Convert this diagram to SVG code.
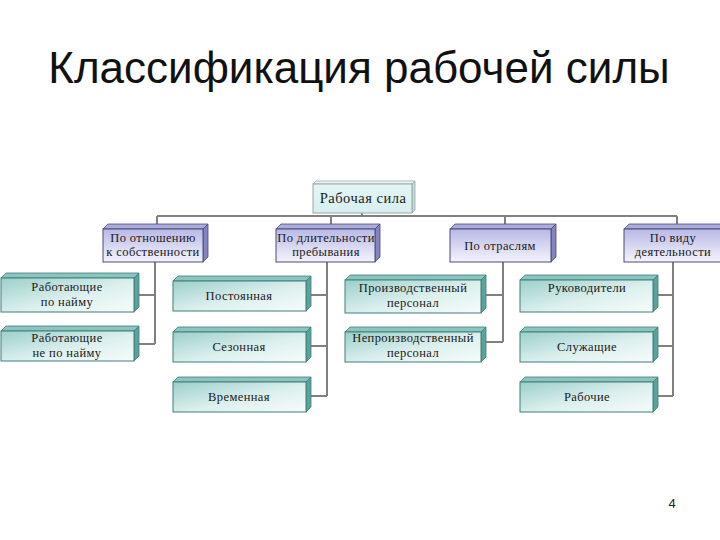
<svg xmlns="http://www.w3.org/2000/svg" width="720" height="540" viewBox="0 0 720 540">
<defs>
<linearGradient id="gT" x1="0" y1="0" x2="1" y2="1">
<stop offset="0" stop-color="#9ccfca"/>
<stop offset="0.55" stop-color="#dcf0ee"/>
<stop offset="1" stop-color="#f6fcfb"/>
</linearGradient>
<linearGradient id="gL" x1="0" y1="0" x2="0" y2="1">
<stop offset="0" stop-color="#b8b8e6"/>
<stop offset="1" stop-color="#f4f4fc"/>
</linearGradient>
<linearGradient id="gR" x1="0" y1="0" x2="0" y2="1">
<stop offset="0" stop-color="#e4f5f5"/>
<stop offset="1" stop-color="#d6efef"/>
</linearGradient>
</defs>
<style>
.t{font-family:'Liberation Serif','Times New Roman','DejaVu Serif',serif;font-size:12.5px;letter-spacing:0.4px;fill:#1a1a1a;text-anchor:middle}
.tr{font-size:14.5px;letter-spacing:0.5px}
.tf{fill:url(#gT);stroke:#3f7f7a;stroke-width:1}
.tt{fill:#8cc4bf;stroke:#3f7f7a;stroke-width:0.8}
.ts{fill:#5aa39c;stroke:#3f7f7a;stroke-width:0.8}
.lf{fill:url(#gL);stroke:#4a4a78;stroke-width:1}
.lt{fill:#ababdc;stroke:#4a4a78;stroke-width:0.8}
.ls{fill:#8484c2;stroke:#4a4a78;stroke-width:0.8}
.rf{fill:url(#gR);stroke:#9aa6a6;stroke-width:1}
.rt{fill:#eef8f8;stroke:#9aa6a6;stroke-width:0.8}
.rs{fill:#c5dcdc;stroke:#9aa6a6;stroke-width:0.8}
.c{fill:none;stroke:#808080;stroke-width:2}
</style>
<rect width="720" height="540" fill="#ffffff"/>
<text x="359" y="83" font-family="Liberation Sans, Arial, sans-serif" font-size="44" fill="#111" text-anchor="middle">Классификация рабочей силы</text>
<text x="672" y="508" font-family="Liberation Sans, Arial, sans-serif" font-size="13" fill="#222" text-anchor="middle">4</text>

<g id="connectors">
<path class="c" d="M362,213 V216 M157,216 H677 M157,216 V224 M331,216 V224 M505,216 V224 M677,216 V224"/>
<path class="c" d="M155,262 V344 M138,295 H155 M138,344 H155"/>
<path class="c" d="M327,262 V396 M310,295 H327 M310,346 H327 M310,396 H327"/>
<path class="c" d="M503,262 V342 M485,295 H503 M485,342 H503"/>
<path class="c" d="M673,262 V396 M657,295 H673 M657,346 H673 M657,396 H673"/>
</g>

<g font-family="Liberation Serif, Times New Roman, serif">
<g id="root">
<polygon class="rt" points="313,184 316,181 415,181 412,184"/>
<polygon class="rs" points="412,184 415,181 415,210 412,213"/>
<rect class="rf" x="313" y="184" width="99" height="29"/>
<text class="t tr" x="363" y="203">Рабочая сила</text>
</g>

<g id="n1">
<polygon class="lt" points="103,229 108,224 208,224 203,229"/>
<polygon class="ls" points="203,229 208,224 208,257 203,262"/>
<rect class="lf" x="103" y="229" width="100" height="33"/>
<text class="t" x="153" y="242">По отношению</text>
<text class="t" x="153" y="256">к собственности</text>
</g>
<g id="n2">
<polygon class="lt" points="276,229 281,224 380,224 375,229"/>
<polygon class="ls" points="375,229 380,224 380,257 375,262"/>
<rect class="lf" x="276" y="229" width="99" height="33"/>
<text class="t" x="326" y="242">По длительности</text>
<text class="t" x="326" y="256">пребывания</text>
</g>
<g id="n3">
<polygon class="lt" points="450,229 455,224 556,224 551,229"/>
<polygon class="ls" points="551,229 556,224 556,257 551,262"/>
<rect class="lf" x="450" y="229" width="101" height="33"/>
<text class="t" x="500" y="250">По отраслям</text>
</g>
<g id="n4">
<polygon class="lt" points="624,229 629,224 725,224 720,229"/>
<rect class="lf" x="624" y="229" width="100" height="33"/>
<text class="t" x="673" y="242">По виду</text>
<text class="t" x="673" y="256">деятельности</text>
</g>

<g id="a1">
<polygon class="tt" points="1,278 6,273 139,273 134,278"/>
<polygon class="ts" points="134,278 139,273 139,307 134,312"/>
<rect class="tf" x="1" y="278" width="133" height="34"/>
<text class="t" x="67" y="291">Работающие</text>
<text class="t" x="67" y="306">по найму</text>
</g>
<g id="a2">
<polygon class="tt" points="1,331 6,326 139,326 134,331"/>
<polygon class="ts" points="134,331 139,326 139,356 134,361"/>
<rect class="tf" x="1" y="331" width="133" height="30"/>
<text class="t" x="67" y="342">Работающие</text>
<text class="t" x="67" y="357">не по найму</text>
</g>

<g id="b1">
<polygon class="tt" points="173,281 178,276 311,276 306,281"/>
<polygon class="ts" points="306,281 311,276 311,306 306,311"/>
<rect class="tf" x="173" y="281" width="133" height="30"/>
<text class="t" x="239" y="300">Постоянная</text>
</g>
<g id="b2">
<polygon class="tt" points="173,332 178,327 311,327 306,332"/>
<polygon class="ts" points="306,332 311,327 311,357 306,362"/>
<rect class="tf" x="173" y="332" width="133" height="30"/>
<text class="t" x="239" y="351">Сезонная</text>
</g>
<g id="b3">
<polygon class="tt" points="173,382 178,377 311,377 306,382"/>
<polygon class="ts" points="306,382 311,377 311,407 306,412"/>
<rect class="tf" x="173" y="382" width="133" height="30"/>
<text class="t" x="239" y="401">Временная</text>
</g>

<g id="c1">
<polygon class="tt" points="345,280 350,275 486,275 481,280"/>
<polygon class="ts" points="481,280 486,275 486,308 481,313"/>
<rect class="tf" x="345" y="280" width="136" height="33"/>
<text class="t" x="413" y="292">Производственный</text>
<text class="t" x="413" y="307">персонал</text>
</g>
<g id="c2">
<polygon class="tt" points="345,332 350,327 486,327 481,332"/>
<polygon class="ts" points="481,332 486,327 486,357 481,362"/>
<rect class="tf" x="345" y="332" width="136" height="30"/>
<text class="t" x="413" y="342">Непроизводственный</text>
<text class="t" x="413" y="357">персонал</text>
</g>

<g id="d1">
<polygon class="tt" points="520,280 525,275 658,275 653,280"/>
<polygon class="ts" points="653,280 658,275 658,307 653,312"/>
<rect class="tf" x="520" y="280" width="133" height="32"/>
<text class="t" x="587" y="292">Руководители</text>
</g>
<g id="d2">
<polygon class="tt" points="520,332 525,327 658,327 653,332"/>
<polygon class="ts" points="653,332 658,327 658,357 653,362"/>
<rect class="tf" x="520" y="332" width="133" height="30"/>
<text class="t" x="587" y="351">Служащие</text>
</g>
<g id="d3">
<polygon class="tt" points="520,382 525,377 658,377 653,382"/>
<polygon class="ts" points="653,382 658,377 658,407 653,412"/>
<rect class="tf" x="520" y="382" width="133" height="30"/>
<text class="t" x="587" y="401">Рабочие</text>
</g>
</g>
</svg>
